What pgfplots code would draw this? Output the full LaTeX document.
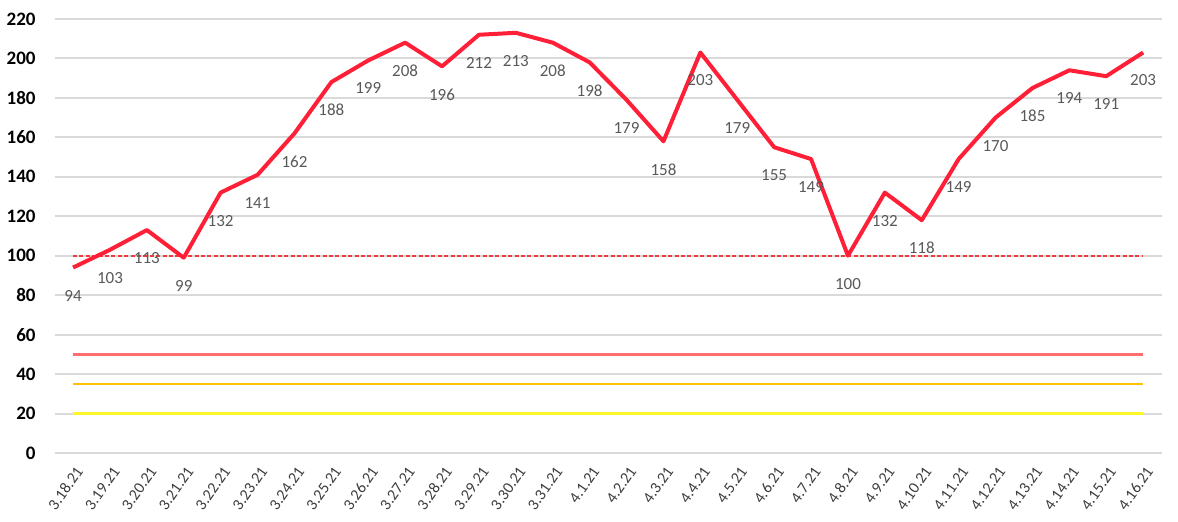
\documentclass[border=0pt]{standalone}
\usepackage{pgfplots}
\pgfplotsset{compat=1.18}
\usepackage{fontspec}
\setmainfont{Carlito}
\definecolor{mainred}{RGB}{255,32,56}
\definecolor{dashred}{RGB}{240,60,60}
\definecolor{lightred}{RGB}{255,110,110}
\definecolor{orangeline}{RGB}{255,192,0}
\definecolor{yellowline}{RGB}{255,245,40}
\definecolor{gridgray}{RGB}{217,217,217}
\definecolor{labgray}{RGB}{89,89,89}
\begin{document}
\begin{tikzpicture}
\path[use as bounding box] (-27.3pt,-34.5pt) rectangle (561.7pt,226.5pt);
\begin{axis}[
  scale only axis,
  width=553.5pt, height=217pt,
  xmin=-0.5, xmax=29.5,
  ymin=0, ymax=220,
  ytick={0,20,...,220},
  xtick={0,...,29},
  xticklabels={3.18.21,3.19.21,3.20.21,3.21.21,3.22.21,3.23.21,3.24.21,3.25.21,3.26.21,3.27.21,3.28.21,3.29.21,3.30.21,3.31.21,4.1.21,4.2.21,4.3.21,4.4.21,4.5.21,4.6.21,4.7.21,4.8.21,4.9.21,4.10.21,4.11.21,4.12.21,4.13.21,4.14.21,4.15.21,4.16.21},
  axis line style={draw=none},
  major tick length=0pt,
  ymajorgrids,
  grid style={gridgray, line width=1pt},
  /pgf/number format/assume math mode=true,
  yticklabel style={font=\fontsize{9.5}{10}\selectfont\bfseries, text=black, xshift=-6pt},
  xticklabel style={font=\fontsize{8}{9}\selectfont, text=labgray!70!black, rotate=55, anchor=east, yshift=-7pt, xshift=-1pt},
  clip=false,
]
\addplot[lightred, line width=1.5pt] coordinates {(0,50) (29,50)};
\addplot[orangeline, line width=1.3pt] coordinates {(0,35) (29,35)};
\addplot[yellowline, line width=1.5pt] coordinates {(0,20) (29,20)};
\addplot[dashred, line width=1pt, dash pattern=on 2pt off 1.2pt] coordinates {(0,100) (29,100)};
\addplot[mainred, line width=2pt, line join=round,
  nodes near coords,
  every node near coord/.append style={font=\fontsize{8.5}{10}\selectfont, text=labgray, anchor=center, yshift=-14pt}]
coordinates {
(0,94) (1,103) (2,113) (3,99) (4,132) (5,141) (6,162) (7,188) (8,199) (9,208)
(10,196) (11,212) (12,213) (13,208) (14,198) (15,179) (16,158) (17,203) (18,179) (19,155)
(20,149) (21,100) (22,132) (23,118) (24,149) (25,170) (26,185) (27,194) (28,191) (29,203)
};
\end{axis}
\end{tikzpicture}
\end{document}
